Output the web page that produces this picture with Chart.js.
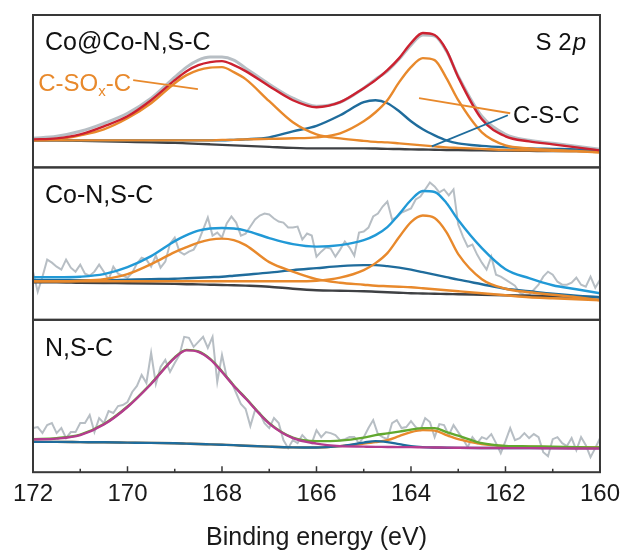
<!DOCTYPE html>
<html>
<head>
<meta charset="utf-8">
<title>S 2p</title>
<script src="https://cdn.jsdelivr.net/npm/chart.js"></script>
<style>
  html, body { margin: 0; padding: 0; background: #fff; }
  canvas { display: block; }
</style>
</head>
<body>
<canvas id="s2p" width="628" height="554"></canvas>
<script>
var FONT = '"Liberation Sans", Arial, Helvetica, sans-serif';

// binding energy grid of the fitted curves (eV)
var fitEnergy = [172, 171.5, 171, 170.5, 170, 169.5, 169, 168.75, 168.5, 168.25, 168, 167.75, 167.5, 167, 166.5, 166,
  165.5, 165, 164.75, 164.5, 164.25, 164, 163.75, 163.5, 163.25, 163, 162.5, 162, 161.5, 161, 160.5, 160];

// raw spectra step (eV)
var rawEnergy = [172.0, 171.9, 171.8, 171.7, 171.6, 171.5, 171.4, 171.3, 171.2, 171.1,
  171.0, 170.9, 170.8, 170.7, 170.6, 170.5, 170.4, 170.3, 170.2, 170.1,
  170.0, 169.9, 169.8, 169.7, 169.6, 169.5, 169.4, 169.3, 169.2, 169.1,
  169.0, 168.9, 168.8, 168.7, 168.6, 168.5, 168.4, 168.3, 168.2, 168.1,
  168.0, 167.9, 167.8, 167.7, 167.6, 167.5, 167.4, 167.3, 167.2, 167.1,
  167.0, 166.9, 166.8, 166.7, 166.6, 166.5, 166.4, 166.3, 166.2, 166.1,
  166.0, 165.9, 165.8, 165.7, 165.6, 165.5, 165.4, 165.3, 165.2, 165.1,
  165.0, 164.9, 164.8, 164.7, 164.6, 164.5, 164.4, 164.3, 164.2, 164.1,
  164.0, 163.9, 163.8, 163.7, 163.6, 163.5, 163.4, 163.3, 163.2, 163.1,
  163.0, 162.9, 162.8, 162.7, 162.6, 162.5, 162.4, 162.3, 162.2, 162.1,
  162.0, 161.9, 161.8, 161.7, 161.6, 161.5, 161.4, 161.3, 161.2, 161.1,
  161.0, 160.9, 160.8, 160.7, 160.6, 160.5, 160.4, 160.3, 160.2, 160.1, 160.0];

var energyTicks = [172, 170, 168, 166, 164, 162, 160];

// Co@Co-N,S-C (a.u.)
var coRaw = [29, 31, 36, 44, 54, 69, 90, 100, 107, 110, 110, 107, 99, 83, 69, 61,
  65, 79, 88, 96, 108, 122, 132, 131, 116, 91, 51, 33, 27, 24, 21, 18];
var coEnvelope = [28, 29, 33, 41, 51, 67, 87, 96, 102, 105, 106, 102, 96, 81, 67, 60,
  65, 79, 87, 97, 109, 124, 134, 132, 117, 90, 48, 31, 26, 23, 20, 17];
var coSOx = [27, 28, 32, 38, 49, 64, 84, 92, 97, 99.5, 100, 95, 88, 66, 45, 33,
  29, 26.5, 25.5, 25, 24, 23, 22, 21, 20, 19.5, 18.5, 17.5, 17, 16.5, 16, 15];
var coCSC32 = [27, 27, 27, 27, 27, 27, 27, 27, 27, 27, 27.5, 27.5, 28, 28.5, 29, 30,
  34, 46, 55, 67, 85, 100, 109, 107, 89, 67, 35, 22, 19, 17.5, 16.5, 15];
var coCSC12 = [27, 27, 27, 27, 27, 27, 27, 27, 27, 27, 27, 27.5, 28, 30, 36, 41.5,
  52, 65, 67, 64, 56, 46, 38, 32, 27, 24, 21.5, 20, 19, 18.5, 18, 17];
var coBackground = [27, 27, 26.5, 26, 25.5, 25, 24.5, 24, 23.5, 23, 22.5, 22, 21.5, 20.5, 19.5, 19,
  19, 19, 18.8, 18.5, 18.3, 18, 17.8, 17.6, 17.4, 17.2, 17, 16.7, 16.5, 16.3, 16.2, 16];

// Co-N,S-C
var cnRaw = [48, 28, 43, 60, 57, 53, 50, 60, 52, 48,
  55, 46, 44, 48, 55, 48, 40, 53, 46, 44,
  42, 47, 56, 62, 60, 53, 64, 52, 58, 76,
  82, 68, 65, 68, 70, 78, 90, 102, 84, 87,
  82, 96, 103, 97, 84, 86, 93, 100, 104, 106,
  105, 101, 98, 97, 92, 92, 93, 80, 86, 84,
  63, 68, 72, 71, 63, 70, 78, 72, 64, 87,
  88, 92, 103, 106, 113, 118, 100, 102, 107, 109,
  111, 120, 123, 130, 137, 133, 127, 130, 124, 130,
  95, 83, 73, 75, 65, 57, 50, 63, 45, 43,
  40, 37, 34, 27, 25, 25, 30, 35, 43, 48,
  45, 38, 35, 35, 37, 42, 35, 33, 43, 32, 40];
var cnEnvelope = [42.5, 42.5, 43, 45.5, 52.5, 63.5, 78.5, 84.5, 89, 91, 91.5, 91, 89, 81.5, 75.5, 73,
  74.5, 79.5, 84.5, 92.5, 105.5, 119.5, 128.5, 127.5, 116.5, 99.5, 71.5, 50.5, 41.5, 34.5, 30.5, 26.5];
var cnSOx = [38.5, 38.5, 39, 40.5, 45.5, 55.5, 67.5, 72.5, 77, 80, 81, 79.5, 74.5, 57.5, 48, 40.5,
  37, 35, 34, 33.5, 33, 32.5, 31.5, 30.5, 29.5, 28.5, 26.5, 24.5, 22.5, 21.5, 20.5, 19.5];
var cnCSC32 = [38.5, 38.5, 38.5, 38.5, 38.5, 38.5, 38.5, 38.5, 38.5, 38.5, 38.5, 38.5, 38.5, 38.5, 38.5, 39,
  42, 49.5, 56.5, 66.5, 82.5, 97.5, 104, 101.5, 87.5, 65.5, 40.5, 31, 27.5, 25, 22.5, 19.5];
var cnCSC12 = [39.5, 39.5, 39.5, 39.5, 40, 40.5, 41, 41.5, 42, 42.5, 43, 44, 45, 47, 49.5, 51.5,
  53.5, 54.5, 54.5, 53.5, 52, 50, 47.5, 45, 42.5, 40, 35.5, 31, 28.5, 26, 24, 22.5];
var cnBackground = [37.5, 37.5, 37, 36.7, 36.5, 36.2, 35.8, 35.5, 35.3, 35, 34.7, 34.5, 34.1, 33, 31, 29.5,
  29, 28.5, 28, 27.5, 27, 26.5, 26.3, 26, 25.8, 25.5, 25, 24.5, 24, 23.5, 23, 22.5];

// N,S-C
var nsRaw = [44, 45, 39, 47, 49, 39, 44, 34, 40, 40,
  49, 49, 57, 40, 54, 49, 61, 59, 66, 67,
  70, 80, 86, 97, 89, 119, 88, 105, 112, 100,
  109, 117, 135, 134, 125, 130, 135, 124, 135, 90,
  117, 95, 90, 79, 68, 63, 46, 62, 59, 49,
  44, 54, 49, 32, 24, 32, 29, 37, 32, 29,
  42, 35, 40, 39, 37, 32, 33, 35, 35, 29,
  35, 44, 52, 38, 35, 33, 49, 52, 44, 45,
  51, 45, 42, 54, 50, 35, 48, 47, 37, 47,
  40, 33, 25, 35, 29, 35, 33, 38, 29, 19,
  31, 44, 32, 34, 39, 34, 38, 35, 20, 16,
  33, 35, 29, 26, 34, 22, 35, 27, 15, 24, 34];
var nsSOx = [32.7, 33.5, 37, 47.5, 65, 88, 114, 121.5, 120, 112.5, 100, 86, 73.5, 48.5, 34, 28.5,
  26, 25.5, 25.3, 25.2, 25, 25, 24.8, 24.7, 24.5, 24.4, 24.2, 24, 24, 23.8, 23.7, 23.6];
var nsEnvelope = [33, 34, 37.5, 48, 65.5, 88.5, 114.5, 122, 120.5, 113, 100.5, 86.5, 74, 49, 34.5, 31,
  31.5, 34.5, 37, 38.7, 40.5, 42.5, 44, 44, 40, 36.5, 29, 26.3, 25.8, 25.5, 25, 24.7];
var nsCSC32 = [30.3, 30.2, 30, 29.8, 29.5, 29.2, 28.8, 28.5, 28.2, 27.8, 27.4, 27, 26.4, 25.5, 24.8, 24.6,
  26, 28.5, 30, 32, 36, 40, 42, 41.5, 37, 33, 28, 26, 25.4, 25, 24.8, 24.7];
var nsCSC12 = [30.3, 30.2, 30, 29.8, 29.5, 29.2, 28.8, 28.5, 28.2, 27.8, 27.4, 27, 26.4, 25.5, 24.8, 24.6,
  26, 29.5, 31, 30, 28, 26, 25, 24.6, 24.4, 24.3, 24.2, 24.2, 24.1, 24, 24, 24];

var GRAY = '#b7bec4', RED = '#cc2130', ORANGE = '#e8892c', BLUE = '#1f6c9c',
    SKY = '#2199d6', MAGENTA = '#b43c8e', GREEN = '#62a82f', DARK = '#3f4144';

function pts(xs, ys) {
  return xs.map(function (x, i) { return { x: x, y: ys[i] }; });
}

function raw(panel, ys) {
  return { data: pts(rawEnergy, ys), yAxisID: panel, borderColor: GRAY, borderWidth: 2,
    pointRadius: 0, tension: 0, order: 20 };
}

function fit(panel, ys, color, order, width) {
  return { data: pts(fitEnergy, ys), yAxisID: panel, borderColor: color, borderWidth: width || 2.4,
    pointRadius: 0, cubicInterpolationMode: 'monotone', order: order };
}

function panelAxis(w) {
  return { type: 'linear', min: 0, max: 152, stack: 'panels', stackWeight: 1, weight: w, position: 'left',
    grid: { display: false, drawTicks: false }, border: { display: false }, ticks: { display: false } };
}

function textAt(ctx, str, x, y, size, color, style) {
  ctx.font = (style || '') + ' ' + size + 'px ' + FONT;
  ctx.fillStyle = color;
  ctx.fillText(str, x, y);
  return ctx.measureText(str).width;
}

// frames, inward ticks, sample names and peak labels
var panelDecor = {
  id: 'panelDecor',
  afterDatasetsDraw: function (chart) {
    var ctx = chart.ctx, area = chart.chartArea, sx = chart.scales.x;
    var y1 = chart.scales.y1, y2 = chart.scales.y2, y3 = chart.scales.y3;
    ctx.save();
    ctx.lineCap = 'butt';

    function leader(ys, e1, v1, e2, v2, color) {
      ctx.strokeStyle = color;
      ctx.lineWidth = 1.8;
      ctx.beginPath();
      ctx.moveTo(sx.getPixelForValue(e1), ys.getPixelForValue(v1));
      ctx.lineTo(sx.getPixelForValue(e2), ys.getPixelForValue(v2));
      ctx.stroke();
    }
    leader(y1, 169.88, 87, 168.51, 78, ORANGE);
    leader(y1, 163.83, 69, 161.90, 54, ORANGE);
    leader(y1, 163.56, 21, 161.95, 52, BLUE);

    ctx.strokeStyle = '#383838';
    ctx.lineWidth = 2;
    [y1, y2, y3].forEach(function (s) {
      ctx.strokeRect(area.left, s.top, area.right - area.left, s.bottom - s.top);
    });

    var ticks = sx.ticks.map(function (t) { return t.value; });
    ctx.lineWidth = 1.5;
    ctx.beginPath();
    ticks.forEach(function (v, i) {
      var px = sx.getPixelForValue(v);
      ctx.moveTo(px, area.bottom); ctx.lineTo(px, area.bottom - 6);
      if (i < ticks.length - 1) {
        var pm = sx.getPixelForValue((v + ticks[i + 1]) / 2);
        ctx.moveTo(pm, area.bottom); ctx.lineTo(pm, area.bottom - 3.5);
      }
    });
    ctx.stroke();

    ctx.textBaseline = 'alphabetic';
    ctx.textAlign = 'left';
    var lx = area.left + 12;
    textAt(ctx, 'Co@Co-N,S-C', lx, y1.top + 35, 25, '#111');
    textAt(ctx, 'Co-N,S-C', lx, y2.top + 35.5, 25, '#111');
    textAt(ctx, 'N,S-C', lx, y3.top + 36.5, 25, '#111');

    // S 2p with italic p, right aligned
    ctx.font = 'italic 24px ' + FONT;
    var wp = ctx.measureText('p').width;
    ctx.font = '24px ' + FONT;
    var ws = ctx.measureText('S 2').width;
    var sxp = area.right - 15 - wp - ws;
    textAt(ctx, 'S 2', sxp, y1.top + 35, 24, '#111');
    textAt(ctx, 'p', sxp + ws + 1, y1.top + 35, 24, '#111', 'italic');

    // C-SOx-C
    var cx = sx.getPixelForValue(171.89), cy = y1.getPixelForValue(76);
    cx += textAt(ctx, 'C-SO', cx, cy, 24, ORANGE);
    cx += textAt(ctx, 'x', cx, cy + 5, 15, ORANGE);
    textAt(ctx, '-C', cx, cy, 24, ORANGE);

    textAt(ctx, 'C-S-C', sx.getPixelForValue(161.84), y1.getPixelForValue(44), 24, '#111');
    ctx.restore();
  }
};

new Chart(document.getElementById('s2p'), {
  type: 'line',
  data: {
    datasets: [
      fit('y1', coRaw, GRAY, 20, 3),
      fit('y1', coBackground, DARK, 15),
      fit('y1', coCSC12, BLUE, 12),
      fit('y1', coSOx, ORANGE, 11),
      fit('y1', coCSC32, ORANGE, 10),
      fit('y1', coEnvelope, RED, 1),

      raw('y2', cnRaw),
      fit('y2', cnBackground, DARK, 15),
      fit('y2', cnCSC12, BLUE, 12),
      fit('y2', cnSOx, ORANGE, 11),
      fit('y2', cnCSC32, ORANGE, 10),
      fit('y2', cnEnvelope, SKY, 1),

      raw('y3', nsRaw),
      fit('y3', nsCSC32, ORANGE, 6),
      fit('y3', nsCSC12, BLUE, 5),
      fit('y3', nsEnvelope, GREEN, 4),
      fit('y3', nsSOx, MAGENTA, 2)
    ]
  },
  options: {
    responsive: false,
    animation: false,
    devicePixelRatio: 1,
    layout: { padding: { left: 33, right: 26, top: 15, bottom: 1 } },
    plugins: { legend: { display: false }, tooltip: { enabled: false } },
    scales: {
      x: {
        type: 'linear', min: 160, max: 172, reverse: true,
        grid: { display: false, drawTicks: false },
        border: { display: false },
        ticks: { stepSize: 2, padding: 8, autoSkip: false, maxRotation: 0, color: '#1a1a1a',
          font: { size: 24, family: FONT } },
        afterBuildTicks: function (scale) {
          scale.ticks = energyTicks.map(function (v) { return { value: v }; });
        },
        title: { display: true, text: 'Binding energy (eV)', color: '#1a1a1a',
          font: { size: 25, family: FONT }, padding: { top: 6, bottom: 0 } }
      },
      y1: panelAxis(3),
      y2: panelAxis(2),
      y3: panelAxis(1)
    }
  },
  plugins: [panelDecor]
});
</script>
</body>
</html>
